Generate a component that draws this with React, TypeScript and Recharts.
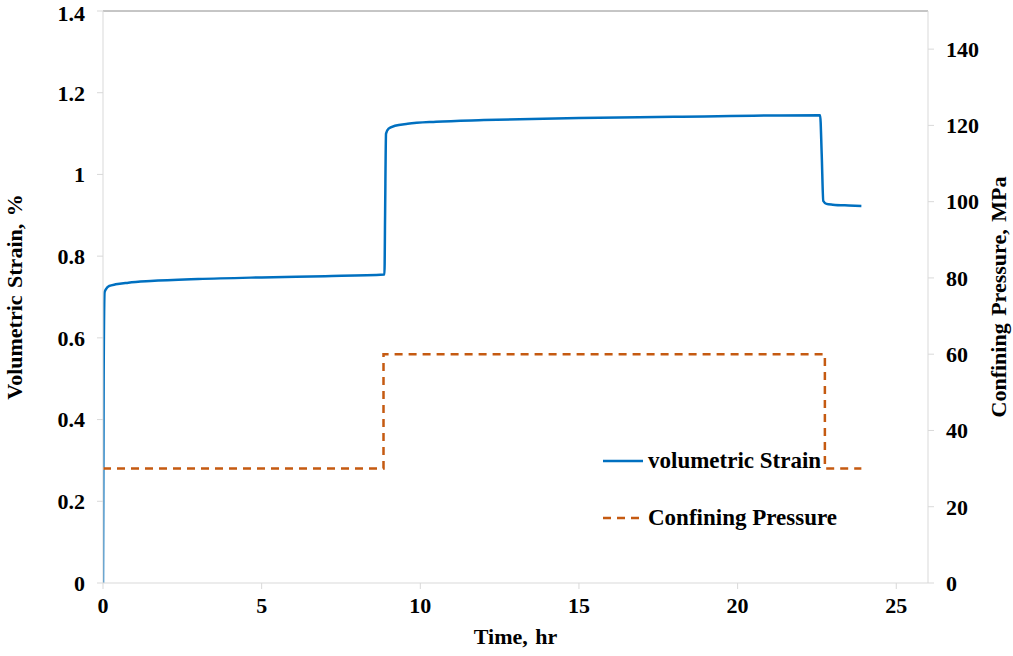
import React from 'react';
import { LineChart, Line, XAxis, YAxis, ReferenceLine } from 'recharts';

const strainTime = [0, 0.02, 0.05, 0.1, 0.2, 0.4, 0.8, 1.5, 3, 5, 7, 8.87, 8.89, 8.92, 9.0, 9.2, 9.6, 10.5, 12, 15, 18, 22.6, 22.65, 22.7, 22.8, 23.0, 23.5, 23.9];
const strainValues = [0, 0.5, 0.712, 0.72, 0.727, 0.731, 0.735, 0.739, 0.744, 0.748, 0.751, 0.755, 0.9, 1.1, 1.112, 1.119, 1.124, 1.129, 1.133, 1.138, 1.141, 1.145, 1.05, 0.935, 0.928, 0.926, 0.924, 0.923];

const pressureTime = [0, 8.84, 8.84, 22.75, 22.75, 23.9];
const pressureValues = [30, 30, 60, 60, 30, 30];

const xTicks = [0, 5, 10, 15, 20, 25];
const leftTicks = [0, 0.2, 0.4, 0.6, 0.8, 1, 1.2, 1.4];
const rightTicks = [0, 20, 40, 60, 80, 100, 120, 140];

const seriesNames = ['volumetric Strain', 'Confining Pressure'];

const strainData = strainTime.map((t, i) => ({ t, strain: strainValues[i] }));
const pressureData = pressureTime.map((t, i) => ({ t, pressure: pressureValues[i] }));

const FONT = '"Liberation Serif", "Times New Roman", serif';
const FS = 22;
const tickStyle = { fill: '#000', fontFamily: FONT, fontWeight: 700, fontSize: FS };
const labelStyle = { textAnchor: 'middle' as const, fill: '#000', fontFamily: FONT, fontWeight: 700, fontSize: FS, wordSpacing: 2 };
const axisGray = '#d9d9d9';
const BLUE = '#0070C0';
const ORANGE = '#C55A11';

export default function App() {
  return (
    <div style={{ position: 'absolute', left: 0, top: 0, width: 1013, height: 656, background: '#fff' }}>
      <LineChart width={1013} height={656} margin={{ top: 11, right: 0, left: 0, bottom: 0 }}>
        <XAxis
          xAxisId="x"
          type="number"
          dataKey="t"
          domain={[0, 26]}
          ticks={xTicks}
          allowDataOverflow
          stroke={axisGray}
          tick={tickStyle}
          tickLine={{ stroke: axisGray }}
          tickSize={6}
          tickMargin={8}
          height={73}
          label={{ value: 'Time, hr', position: 'insideBottom', offset: 12, style: labelStyle }}
        />
        <YAxis
          yAxisId="left"
          domain={[0, 1.4]}
          ticks={leftTicks}
          width={103}
          stroke={axisGray}
          tick={tickStyle}
          tickLine={{ stroke: axisGray }}
          tickSize={6}
          tickMargin={12}
          label={{ value: 'Volumetric Strain, %', angle: -90, position: 'insideLeft', offset: 14, style: labelStyle }}
        />
        <YAxis
          yAxisId="right"
          orientation="right"
          domain={[0, 150]}
          ticks={rightTicks}
          width={85}
          stroke={axisGray}
          tick={tickStyle}
          tickLine={{ stroke: axisGray }}
          tickSize={6}
          tickMargin={12}
          label={{ value: 'Confining Pressure, MPa', angle: -90, position: 'insideRight', offset: 15, style: labelStyle }}
        />
        <ReferenceLine xAxisId="x" yAxisId="left" y={1.4} stroke="#8c8c8c" strokeWidth={1} />
        <Line
          xAxisId="x"
          yAxisId="left"
          data={strainData}
          dataKey="strain"
          name={seriesNames[0]}
          type="monotone"
          stroke={BLUE}
          strokeWidth={2.5}
          dot={false}
          isAnimationActive={false}
        />
        <Line
          xAxisId="x"
          yAxisId="right"
          data={pressureData}
          dataKey="pressure"
          name={seriesNames[1]}
          type="linear"
          stroke={ORANGE}
          strokeWidth={2.5}
          strokeDasharray="8 6"
          dot={false}
          isAnimationActive={false}
        />
      </LineChart>
      <svg width={260} height={90} style={{ position: 'absolute', left: 600, top: 449 }}>
        <line x1={3} y1={12} x2={43} y2={12} stroke={BLUE} strokeWidth={2.5} />
        <text x={48} y={19} fontFamily={FONT} fontWeight={700} fontSize={23} fill="#000">{seriesNames[0]}</text>
        <line x1={3} y1={69} x2={43} y2={69} stroke={ORANGE} strokeWidth={2.5} strokeDasharray="8 6" />
        <text x={48} y={76} fontFamily={FONT} fontWeight={700} fontSize={23} fill="#000">{seriesNames[1]}</text>
      </svg>
    </div>
  );
}
